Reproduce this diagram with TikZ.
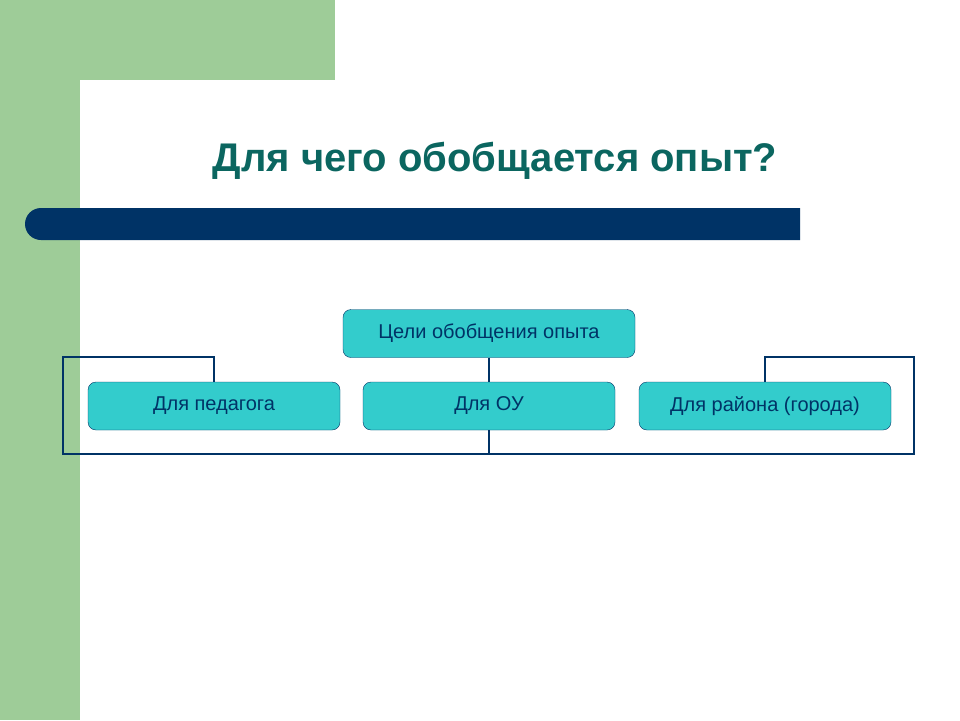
\documentclass[tikz,border=0pt]{standalone}
\usepackage{fontspec}
\setmainfont{Liberation Sans}
\definecolor{slidegreen}{HTML}{9ECC98}
\definecolor{titleteal}{HTML}{0B6660}
\definecolor{navy}{HTML}{003366}
\definecolor{boxcyan}{HTML}{33CCCC}
\tikzset{
  goal/.style={draw=navy,fill=boxcyan,rounded corners=8pt,minimum height=48pt,
    text=navy,font=\fontsize{20}{24}\selectfont,inner sep=0pt},
  link/.style={draw=navy,line width=2.2pt}
}
\begin{document}
\begin{tikzpicture}[x=1pt,y=-1pt]
       \useasboundingbox (0,0) rectangle (960,720);
       % background
       \fill[slidegreen] (0,0) rectangle (335,720);
       \fill[white] (335,80) -- (80,80) -- (80,720) -- (960,720) -- (960,0) -- (335,0) -- cycle;
       \fill[white] (80,720) [rounded corners=30pt] -- (80,80) -- (335,80) [sharp corners] -- (335,720) -- cycle;
       \fill[navy] (800,208) -- (800,240) [rounded corners=16pt] -- (25,240) -- (25,208) [sharp corners] -- cycle;
       \node[text=titleteal,font=\fontsize{40}{48}\selectfont\bfseries] (title) at (495,161) {Для чего обобщается опыт?};
       % nodes
       \node[goal,minimum width=292pt] (goals) at (489,333.5) {Цели обобщения опыта};
       \node[goal,minimum width=252pt] (ped) at (214,406) {Для педагога};
       \node[goal,minimum width=252pt] (ou) at (489,406) {Для ОУ};
       \node[goal,minimum width=252pt] (dist) at (765,406) {Для района (города)};
       \coordinate (fl) at (63,357);
       \coordinate (fr) at (914,357);
       \coordinate (fb) at (489,454);
       % links
       \draw[link] (goals) -- (ou);
       \draw[link] (ped.north) |- (fl) |- (fb) -- (ou.south);
       \draw[link] (dist.north) |- (fr) |- (fb);
\end{tikzpicture}
\end{document}
